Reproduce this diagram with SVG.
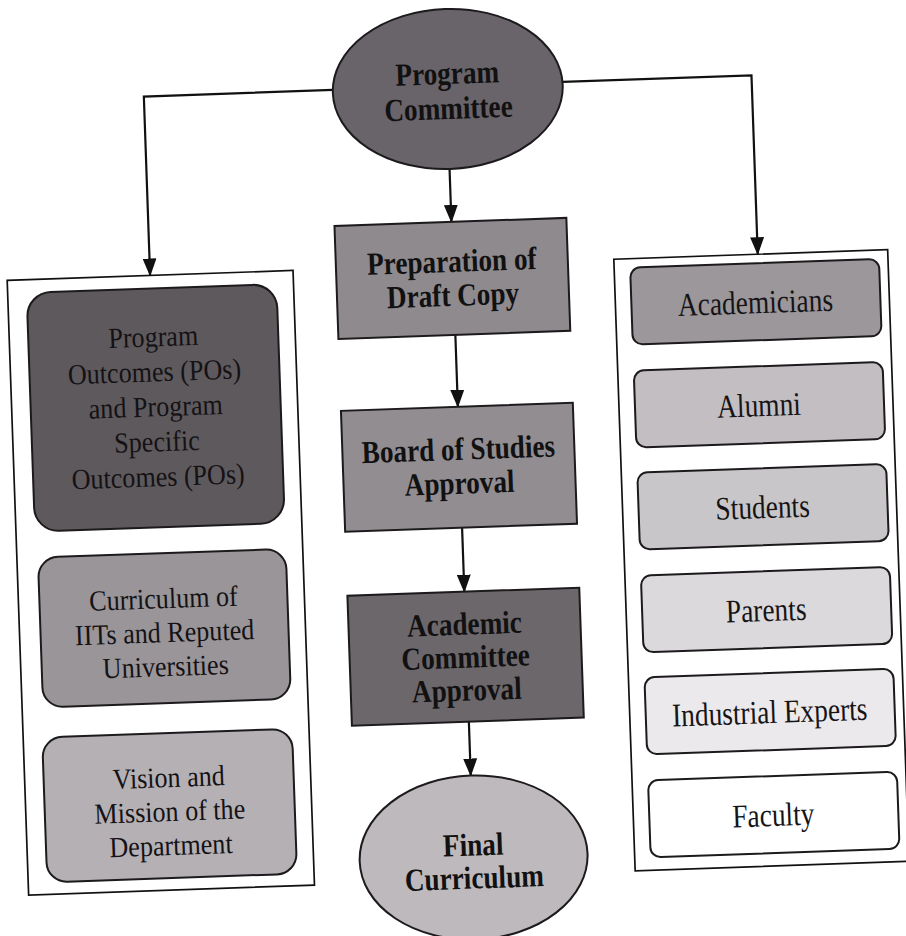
<svg xmlns="http://www.w3.org/2000/svg" width="906" height="936" viewBox="0 0 906 936">
<style>
.bx{stroke:#1c1a1c;stroke-width:2}
.ct{fill:#fff;stroke:#111;stroke-width:1.7}
.cn{fill:none;stroke:#111;stroke-width:2.2}
.tb{font-family:"Liberation Serif","Times New Roman",serif;font-weight:bold;font-size:32px;fill:#111;text-anchor:middle}
.tr{font-family:"Liberation Serif","Times New Roman",serif;font-size:33px;fill:#161416;text-anchor:middle}
.tl{font-family:"Liberation Serif","Times New Roman",serif;font-size:29px;fill:#141214;text-anchor:middle}
</style>
<defs>
<marker id="ah" markerWidth="18" markerHeight="14" refX="17" refY="7" orient="auto" markerUnits="userSpaceOnUse">
<path d="M0,0 L18,7 L0,14 z" fill="#111"/>
</marker>
</defs>
<rect width="906" height="936" fill="#fff"/>
<g transform="rotate(-2 453 468)">
<g id="connectors">
<path class="cn" d="M346,86 H157 V265" marker-end="url(#ah)"/>
<path class="cn" d="M576,86 H765 V265" marker-end="url(#ah)"/>
<path class="cn" d="M460,169 V222" marker-end="url(#ah)"/>
<path class="cn" d="M460,335 V407" marker-end="url(#ah)"/>
<path class="cn" d="M460,528 V592" marker-end="url(#ah)"/>
<path class="cn" d="M460,722 V776" marker-end="url(#ah)"/>
</g>
<g id="program-committee">
<ellipse class="bx" cx="461" cy="89" rx="115" ry="80" fill="#69636a"/>
<text class="tb" transform="translate(461,84) scale(0.85,1)">Program</text>
<text class="tb" transform="translate(461,119) scale(0.85,1)">Committee</text>
</g>
<g id="draft-copy">
<rect class="bx" x="343" y="222" width="232" height="113" fill="#8e8a8e"/>
<text class="tb" transform="translate(459,272) scale(0.85,1)">Preparation of</text>
<text class="tb" transform="translate(459,306) scale(0.85,1)">Draft Copy</text>
</g>
<g id="board-of-studies">
<rect class="bx" x="343" y="407" width="232" height="121" fill="#918d91"/>
<text class="tb" transform="translate(459,460) scale(0.85,1)">Board of Studies</text>
<text class="tb" transform="translate(459,494) scale(0.85,1)">Approval</text>
</g>
<g id="academic-committee">
<rect class="bx" x="343" y="592" width="232" height="130" fill="#6c676b"/>
<text class="tb" transform="translate(459,635) scale(0.85,1)">Academic</text>
<text class="tb" transform="translate(459,668) scale(0.85,1)">Committee</text>
<text class="tb" transform="translate(459,701) scale(0.85,1)">Approval</text>
</g>
<g id="final-curriculum">
<ellipse class="bx" cx="460" cy="858" rx="114" ry="82" fill="#bdb9bd"/>
<text class="tb" transform="translate(460,856) scale(0.85,1)">Final</text>
<text class="tb" transform="translate(460,889) scale(0.85,1)">Curriculum</text>
</g>
<g id="left-group">
<rect class="ct" x="14" y="265" width="286" height="615"/>
<g id="program-outcomes">
<rect class="bx" x="33" y="278" width="250" height="239" rx="24" fill="#5e595d"/>
<text class="tl" transform="translate(158,336) scale(0.9,1)">Program</text>
<text class="tl" transform="translate(158,371) scale(0.9,1)">Outcomes (POs)</text>
<text class="tl" transform="translate(158,406) scale(0.9,1)">and Program</text>
<text class="tl" transform="translate(158,441) scale(0.9,1)">Specific</text>
<text class="tl" transform="translate(158,476) scale(0.9,1)">Outcomes (POs)</text>
</g>
<g id="curriculum-iits">
<rect class="bx" x="35" y="543" width="248" height="150" rx="20" fill="#999599"/>
<text class="tl" transform="translate(159,598) scale(0.9,1)">Curriculum of</text>
<text class="tl" transform="translate(159,632) scale(0.9,1)">IITs and Reputed</text>
<text class="tl" transform="translate(159,666) scale(0.9,1)">Universities</text>
</g>
<g id="vision-mission">
<rect class="bx" x="33" y="723" width="250" height="145" rx="20" fill="#b4b0b4"/>
<text class="tl" transform="translate(158,777) scale(0.9,1)">Vision and</text>
<text class="tl" transform="translate(158,811) scale(0.9,1)">Mission of the</text>
<text class="tl" transform="translate(158,845) scale(0.9,1)">Department</text>
</g>
</g>
<g id="right-group">
<rect class="ct" x="621" y="265" width="274" height="612"/>
<g id="academicians">
<rect class="bx" x="637" y="274" width="249" height="77" rx="10" fill="#9b979b"/>
<text class="tr" transform="translate(761,324) scale(0.83,1)">Academicians</text>
</g>
<g id="alumni">
<rect class="bx" x="637" y="377" width="249" height="77" rx="10" fill="#c2bec2"/>
<text class="tr" transform="translate(761,427) scale(0.83,1)">Alumni</text>
</g>
<g id="students">
<rect class="bx" x="637" y="479" width="249" height="77" rx="10" fill="#c9c6c9"/>
<text class="tr" transform="translate(761,529) scale(0.83,1)">Students</text>
</g>
<g id="parents">
<rect class="bx" x="637" y="582" width="249" height="77" rx="10" fill="#dcd9dc"/>
<text class="tr" transform="translate(761,632) scale(0.83,1)">Parents</text>
</g>
<g id="industrial-experts">
<rect class="bx" x="637" y="684" width="249" height="77" rx="10" fill="#ebe9eb"/>
<text class="tr" transform="translate(761,734) scale(0.83,1)">Industrial Experts</text>
</g>
<g id="faculty">
<rect class="bx" x="637" y="787" width="249" height="77" rx="10" fill="#ffffff"/>
<text class="tr" transform="translate(761,837) scale(0.83,1)">Faculty</text>
</g>
</g>
</g>
</svg>
